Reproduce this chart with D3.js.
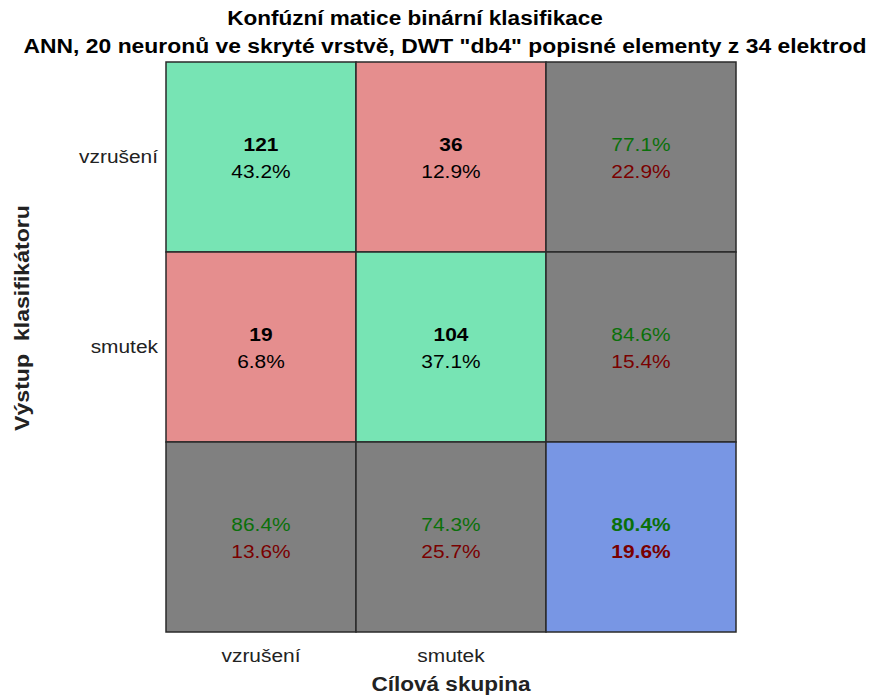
<!DOCTYPE html>
<html lang="cs">
<head>
<meta charset="UTF-8">
<title>Konfúzní matice</title>
<script src="https://cdn.jsdelivr.net/npm/d3@7"></script>
<style>
  body { margin: 0; background: #fff; }
  text { font-family: "Liberation Sans", Arial, sans-serif; }
</style>
</head>
<body>
<svg id="chart" width="870" height="695"></svg>
<script>
// data
var classes = ["vzrušení", "smutek"];
var counts = [[121, 36], [19, 104]];
var pcts = [["43.2%", "12.9%"], ["6.8%", "37.1%"]];
var rowStats = [["77.1%", "22.9%"], ["84.6%", "15.4%"]];
var colStats = [["86.4%", "13.6%"], ["74.3%", "25.7%"]];
var overall = ["80.4%", "19.6%"];
var titleLines = ["Konfúzní matice binární klasifikace",
                  "ANN, 20 neuronů ve skryté vrstvě, DWT \"db4\" popisné elementy z 34 elektrod"];

var svg = d3.select("svg");
var mLeft = 166, mTop = 62, size = 570;
var sx = 1.1; // text is a bit wider than Liberation Sans

var x = d3.scaleBand().domain([0, 1, 2]).range([mLeft, mLeft + size]);
var y = d3.scaleBand().domain([0, 1, 2]).range([mTop, mTop + size]);

var green = "#77e4b4", red = "#e58e8e", gray = "#808080", blue = "#7896e4";
var okCol = "#0a700a", badCol = "#7a0000";

// stretched text helper
function label(parent, tx, ty, txt, size, opts) {
  opts = opts || {};
  return parent.append("text")
    .attr("transform", "translate(" + tx + "," + ty + ")" + (opts.rot ? " rotate(" + opts.rot + ")" : "") + " scale(" + sx + ",1)")
    .attr("text-anchor", opts.anchor || "middle")
    .attr("font-size", size)
    .attr("font-weight", opts.bold ? "bold" : "normal")
    .attr("fill", opts.fill || "#222")
    .style("white-space", "pre")
    .text(txt);
}

// build cell list
var cells = [];
for (var r = 0; r < 3; r++) {
  for (var c = 0; c < 3; c++) {
    var cell = {r: r, c: c};
    if (r < 2 && c < 2) {
      cell.fill = r == c ? green : red;
      cell.lines = [{t: counts[r][c], bold: true, col: "#000"}, {t: pcts[r][c], col: "#000"}];
    } else if (r < 2) {
      cell.fill = gray;
      cell.lines = [{t: rowStats[r][0], col: okCol}, {t: rowStats[r][1], col: badCol}];
    } else if (c < 2) {
      cell.fill = gray;
      cell.lines = [{t: colStats[c][0], col: okCol}, {t: colStats[c][1], col: badCol}];
    } else {
      cell.fill = blue;
      cell.lines = [{t: overall[0], bold: true, col: okCol}, {t: overall[1], bold: true, col: badCol}];
    }
    cells.push(cell);
  }
}

var g = svg.selectAll("g.cell").data(cells).enter().append("g").attr("class", "cell");

g.append("rect")
  .attr("x", d => x(d.c))
  .attr("y", d => y(d.r))
  .attr("width", x.bandwidth())
  .attr("height", y.bandwidth())
  .attr("fill", d => d.fill)
  .attr("stroke", "#2a2a2a")
  .attr("stroke-width", 1.5);

g.each(function(d) {
  var cx = x(d.c) + x.bandwidth() / 2, cy = y(d.r) + y.bandwidth() / 2;
  var sel = d3.select(this);
  d.lines.forEach(function(l, i) {
    label(sel, cx, cy - 6 + i * 27, l.t, 19, {bold: l.bold, fill: l.col});
  });
});

// row labels
classes.forEach(function(d, i) {
  label(svg, mLeft - 8, y(i) + y.bandwidth() / 2 + 6, d, 19, {anchor: "end"});
});

// column labels
classes.forEach(function(d, i) {
  label(svg, x(i) + x.bandwidth() / 2, 662, d, 19);
});

// axis titles
label(svg, mLeft + size / 2, 691, "Cílová skupina", 20.5, {bold: true});
label(svg, 29, 318, "Výstup  klasifikátoru", 21, {bold: true, rot: -90});

// title
titleLines.forEach(function(d, i) {
  label(svg, i == 0 ? 415 : 445, 25 + i * 28, d, i == 0 ? 20.5 : 20.8, {bold: true, fill: "#000"});
});
</script>
</body>
</html>
